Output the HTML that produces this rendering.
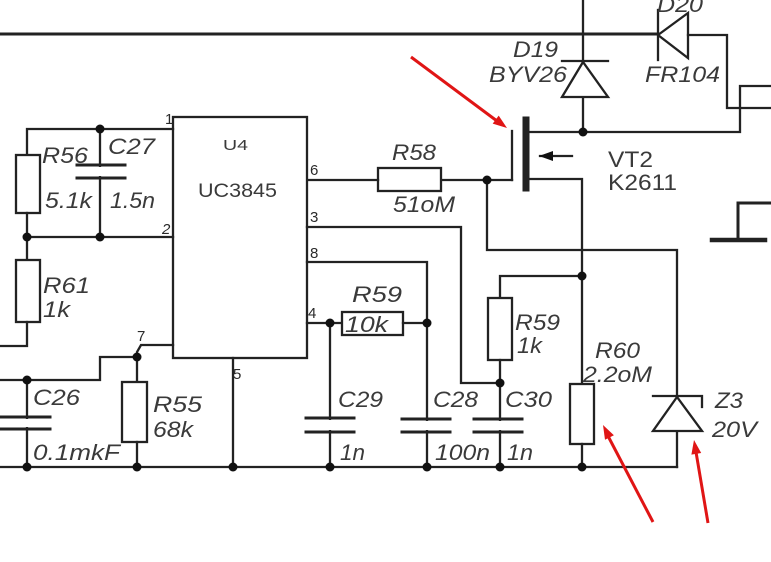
<!DOCTYPE html>
<html><head><meta charset="utf-8"><style>
html,body{margin:0;padding:0;background:#fff;}
svg{display:block;}
text{font-family:"Liberation Sans",Arial,sans-serif;fill:#3a3a3a;}
.i{font-style:italic;font-size:22px;}
.n{font-size:20px;}
.p{font-size:15px;fill:#2a2a2a;}
</style></head><body>
<svg width="771" height="562" viewBox="0 0 771 562" xmlns="http://www.w3.org/2000/svg">
<rect width="771" height="562" fill="#fff"/>
<g stroke="#222" stroke-width="2.3" fill="none" stroke-linecap="square">
<!-- top line -->
<line x1="0" y1="34" x2="658" y2="34" stroke-width="3"/>
<!-- D20 -->
<line x1="658" y1="10" x2="658" y2="60"/>
<polygon points="658,35 688,13 688,58" fill="#fff"/>
<polyline points="688,35 727,35 727,108 771,108"/>
<!-- drain line -->
<polyline points="526,132 740,132 740,86 771,86"/>
<!-- ground right -->
<polyline points="771,203 738,203 738,240" stroke-width="3"/>
<line x1="712" y1="240" x2="765" y2="240" stroke-width="4.5"/>
<!-- D19 -->
<line x1="583" y1="0" x2="583" y2="132"/>
<line x1="562" y1="61" x2="608" y2="61"/>
<polygon points="583,62 562,97 608,97" fill="#fff"/>
<!-- MOSFET -->
<line x1="512" y1="131" x2="512" y2="180"/>
<line x1="526" y1="120" x2="526" y2="188" stroke-width="7"/>
<polyline points="526,179 582,179 582,384"/>
<line x1="540" y1="156" x2="572" y2="156"/>
<!-- gate wire -->
<line x1="441" y1="180" x2="512" y2="180"/>
<polyline points="487,180 487,250 677,250 677,467"/>
<!-- R58 -->
<rect x="378" y="168" width="63" height="23" fill="#fff"/>
<line x1="307" y1="180" x2="378" y2="180"/>
<!-- IC -->
<rect x="173" y="117" width="134" height="241" fill="#fff"/>
<!-- pin3 -->
<polyline points="307,227 461,227 461,383 500,383"/>
<!-- pin8 -->
<polyline points="307,262 427,262 427,467"/>
<!-- pin4 -->
<line x1="307" y1="323" x2="342" y2="323"/>
<rect x="342" y="312" width="61" height="23" fill="#fff"/>
<line x1="403" y1="323" x2="427" y2="323"/>
<line x1="330" y1="323" x2="330" y2="467"/>
<!-- C29 -->
<line x1="306" y1="418" x2="354" y2="418" stroke-width="3"/>
<line x1="306" y1="432" x2="354" y2="432" stroke-width="3"/>
<!-- C28 -->
<line x1="402" y1="419" x2="450" y2="419" stroke-width="3"/>
<line x1="402" y1="432" x2="450" y2="432" stroke-width="3"/>
<!-- R59 1k -->
<polyline points="582,276 500,276 500,298"/>
<rect x="488" y="298" width="24" height="62" fill="#fff"/>
<line x1="500" y1="360" x2="500" y2="467"/>
<!-- C30 -->
<line x1="474" y1="419" x2="522" y2="419" stroke-width="3"/>
<line x1="474" y1="432" x2="522" y2="432" stroke-width="3"/>
<!-- R60 -->
<rect x="570" y="384" width="24" height="60" fill="#fff"/>
<line x1="582" y1="444" x2="582" y2="467"/>
<!-- Z3 -->
<polyline points="653,396 702,396 702,407"/>
<polygon points="677,397 653,431 702,431" fill="#fff"/>
<!-- ground line -->
<line x1="0" y1="467" x2="677" y2="467"/>
<!-- pin5 -->
<line x1="233" y1="358" x2="233" y2="467"/>
<!-- left: R56/C27 -->
<polyline points="173,129 27,129 27,155"/>
<rect x="16" y="155" width="24" height="58" fill="#fff"/>
<line x1="27" y1="213" x2="27" y2="260"/>
<line x1="100" y1="129" x2="100" y2="237"/>
<line x1="77" y1="165" x2="125" y2="165" stroke-width="3"/>
<line x1="77" y1="178" x2="125" y2="178" stroke-width="3"/>
<line x1="27" y1="237" x2="173" y2="237"/>
<!-- R61 -->
<rect x="16" y="260" width="24" height="62" fill="#fff"/>
<polyline points="27,322 27,346 0,346"/>
<!-- pin7 / C26 / R55 -->
<polyline points="173,345 141,345 137,352 137,382"/>
<polyline points="137,357 100,357 100,380 0,380"/>
<line x1="27" y1="380" x2="27" y2="467"/>
<line x1="0" y1="417" x2="50" y2="417" stroke-width="3"/>
<line x1="0" y1="429" x2="50" y2="429" stroke-width="3"/>
<rect x="122" y="382" width="25" height="60" fill="#fff"/>
<line x1="137" y1="442" x2="137" y2="467"/>
</g>
<!-- capacitor gaps -->
<rect x="90" y="167" width="20" height="9" fill="#fff"/>
<rect x="320" y="420" width="20" height="10" fill="#fff"/>
<rect x="416" y="421" width="20" height="9" fill="#fff"/>
<rect x="489" y="421" width="20" height="9" fill="#fff"/>
<rect x="17" y="419" width="20" height="8" fill="#fff"/>
<!-- dots -->
<g fill="#111">
<circle cx="100" cy="129" r="4.5"/>
<circle cx="27" cy="237" r="4.5"/>
<circle cx="100" cy="237" r="4.5"/>
<circle cx="137" cy="357" r="4.5"/>
<circle cx="27" cy="380" r="4.5"/>
<circle cx="27" cy="467" r="4.5"/>
<circle cx="137" cy="467" r="4.5"/>
<circle cx="233" cy="467" r="4.5"/>
<circle cx="330" cy="467" r="4.5"/>
<circle cx="330" cy="323" r="4.5"/>
<circle cx="427" cy="323" r="4.5"/>
<circle cx="427" cy="467" r="4.5"/>
<circle cx="500" cy="383" r="4.5"/>
<circle cx="500" cy="467" r="4.5"/>
<circle cx="582" cy="467" r="4.5"/>
<circle cx="582" cy="276" r="4.5"/>
<circle cx="487" cy="180" r="4.5"/>
<circle cx="583" cy="132" r="4.5"/>
<polygon points="539,156 553,151 553,161"/>
</g>
<!-- labels -->
<text class="i" x="42" y="163" textLength="46" lengthAdjust="spacingAndGlyphs">R56</text>
<text class="i" x="45" y="208" textLength="47" lengthAdjust="spacingAndGlyphs">5.1k</text>
<text class="i" x="108" y="154" textLength="47" lengthAdjust="spacingAndGlyphs">C27</text>
<text class="i" x="110" y="208" textLength="45" lengthAdjust="spacingAndGlyphs">1.5n</text>
<text x="223" y="150" font-size="15" textLength="25" lengthAdjust="spacingAndGlyphs">U4</text>
<text x="198" y="197" font-size="19" textLength="79" lengthAdjust="spacingAndGlyphs">UC3845</text>
<text class="i" x="43" y="293" textLength="47" lengthAdjust="spacingAndGlyphs">R61</text>
<text class="i" x="43" y="317" textLength="27" lengthAdjust="spacingAndGlyphs">1k</text>
<text class="i" x="33" y="405" textLength="47" lengthAdjust="spacingAndGlyphs">C26</text>
<text class="i" x="33" y="460" textLength="87" lengthAdjust="spacingAndGlyphs">0.1mkF</text>
<text class="i" x="153" y="412" textLength="49" lengthAdjust="spacingAndGlyphs">R55</text>
<text class="i" x="153" y="437" textLength="40" lengthAdjust="spacingAndGlyphs">68k</text>
<text class="i" x="338" y="407" textLength="45" lengthAdjust="spacingAndGlyphs">C29</text>
<text class="i" x="340" y="460" textLength="25" lengthAdjust="spacingAndGlyphs">1n</text>
<text class="i" x="352" y="302" textLength="50" lengthAdjust="spacingAndGlyphs">R59</text>
<text class="i" x="345" y="332" font-size="20" textLength="43" lengthAdjust="spacingAndGlyphs">10k</text>
<text class="i" x="433" y="407" textLength="45" lengthAdjust="spacingAndGlyphs">C28</text>
<text class="i" x="435" y="460" textLength="55" lengthAdjust="spacingAndGlyphs">100n</text>
<text class="i" x="505" y="407" textLength="47" lengthAdjust="spacingAndGlyphs">C30</text>
<text class="i" x="507" y="460" textLength="26" lengthAdjust="spacingAndGlyphs">1n</text>
<text class="i" x="515" y="330" textLength="45" lengthAdjust="spacingAndGlyphs">R59</text>
<text class="i" x="517" y="353" textLength="25" lengthAdjust="spacingAndGlyphs">1k</text>
<text class="i" x="595" y="358" textLength="45" lengthAdjust="spacingAndGlyphs">R60</text>
<text class="i" x="583" y="382" textLength="69" lengthAdjust="spacingAndGlyphs">2.2oM</text>
<text class="i" x="715" y="408" textLength="28" lengthAdjust="spacingAndGlyphs">Z3</text>
<text class="i" x="712" y="437" textLength="45" lengthAdjust="spacingAndGlyphs">20V</text>
<text class="i" x="392" y="160" textLength="44" lengthAdjust="spacingAndGlyphs">R58</text>
<text class="i" x="393" y="212" textLength="62" lengthAdjust="spacingAndGlyphs">51oM</text>
<text x="608" y="167" font-size="22" textLength="45" lengthAdjust="spacingAndGlyphs">VT2</text>
<text x="608" y="190" font-size="22" textLength="69" lengthAdjust="spacingAndGlyphs">K2611</text>
<text class="i" x="513" y="57" textLength="45" lengthAdjust="spacingAndGlyphs">D19</text>
<text class="i" x="489" y="82" textLength="78" lengthAdjust="spacingAndGlyphs">BYV26</text>
<text class="i" x="657" y="12" textLength="46" lengthAdjust="spacingAndGlyphs">D20</text>
<text class="i" x="645" y="82" textLength="75" lengthAdjust="spacingAndGlyphs">FR104</text>
<!-- pin numbers -->
<text class="p" x="165" y="124">1</text>
<text class="p" x="162" y="234" font-style="italic">2</text>
<text class="p" x="310" y="175">6</text>
<text class="p" x="310" y="222">3</text>
<text class="p" x="310" y="258">8</text>
<text class="p" x="308" y="318">4</text>
<text class="p" x="137" y="341">7</text>
<text class="p" x="233" y="379">5</text>
<!-- red arrows -->
<g stroke="#e01515" stroke-width="3" fill="#e01515">
<line x1="411" y1="57" x2="497" y2="121"/>
<polygon points="507,128 492.7,123.6 498.7,115.6" stroke="none"/>
<line x1="653" y1="522" x2="608" y2="436"/>
<polygon points="603,425 613.9,435.2 605,439.8" stroke="none"/>
<line x1="708" y1="523" x2="696" y2="452"/>
<polygon points="694,440 701.2,453 691.4,454.6" stroke="none"/>
</g>
</svg>
</body></html>
